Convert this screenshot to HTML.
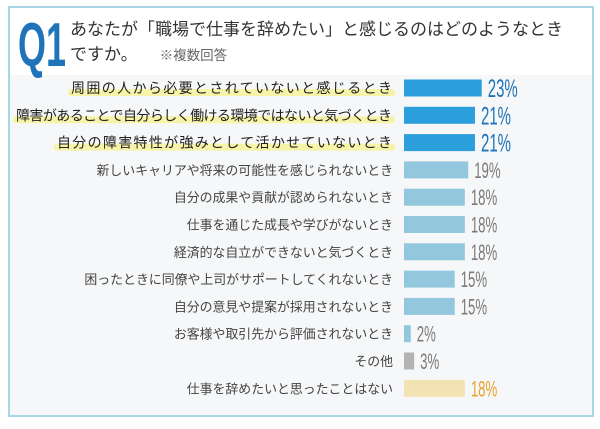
<!DOCTYPE html>
<html><head><meta charset="utf-8">
<style>
html,body{margin:0;padding:0;background:#fff;}
body{width:600px;height:424px;overflow:hidden;font-family:"Liberation Sans","Noto Sans CJK JP",sans-serif;}
</style></head>
<body>
<svg width="600" height="424" viewBox="0 0 600 424" xmlns="http://www.w3.org/2000/svg">
<rect x="9" y="7" width="584" height="409" fill="#ffffff" stroke="#a9d6e6" stroke-width="2"/>
<rect x="10" y="75" width="582" height="340" fill="#f6f7f8"/>
<text x="18" y="66" font-size="62" font-weight="bold" fill="#1f74b9" transform="translate(18,0) scale(0.58,1) translate(-18,0)">Q1</text>
<text x="70" y="35" font-size="17" fill="#333" textLength="493">あなたが「職場で仕事を辞めたい」と感じるのはどのようなとき</text>
<text x="70" y="60" font-size="17" fill="#333">ですか。<tspan dx="22" font-size="13.5" fill="#666">※複数回答</tspan></text>
<g id="bars"></g>
</svg>
<script>
const categories=["周囲の人から必要とされていないと感じるとき","障害があることで自分らしく働ける環境ではないと気づくとき","自分の障害特性が強みとして活かせていないとき","新しいキャリアや将来の可能性を感じられないとき","自分の成果や貢献が認められないとき","仕事を通じた成長や学びがないとき","経済的な自立ができないと気づくとき","困ったときに同僚や上司がサポートしてくれないとき","自分の意見や提案が採用されないとき","お客様や取引先から評価されないとき","その他","仕事を辞めたいと思ったことはない"];
const values=[23,21,21,19,18,18,18,15,15,2,3,18];
const valueLabels=["23%","21%","21%","19%","18%","18%","18%","15%","15%","2%","3%","18%"];
const topStarts=[71,16,57];
const NS="http://www.w3.org/2000/svg";
const g=document.getElementById('bars');
const x0=404, pxPer=3.38, y0=88, step=27.3, bh=17;
const xs=v=>v*pxPer, ys=i=>y0+i*step;
function mk(t,a){const e=document.createElementNS(NS,t);for(const k in a)e.setAttribute(k,a[k]);return e;}
categories.forEach((c,i)=>{
  const top=i<3, y=ys(i);
  let barCol=top?"#2a9fdb":(i===10?"#b3b3b3":(i===11?"#f3e3b4":"#92c7de"));
  let valCol=top?"#1f74b9":(i===11?"#e9a22a":"#7a7a7a");
  let t;
  if(top){
    const sx=topStarts[i], w=392-sx;
    const hl=mk('rect',{x:sx-3,y:y+1,width:w+6,height:7,fill:"#f7f3a8",rx:3});
    
    
    g.appendChild(hl);
    t=mk('text',{x:sx,y:y+5,'font-size':14,fill:"#222",textLength:w,lengthAdjust:"spacing"});
  } else {
    t=mk('text',{x:393,y:y+5,'text-anchor':'end','font-size':12.9,fill:"#444"});
  }
  
  
  t.textContent=c; g.appendChild(t);
  const b=mk('rect',{x:x0,y:y-bh/2,width:xs(values[i]),height:bh,fill:barCol});
  
  
  g.appendChild(b);
  const vx=x0+xs(values[i])+6;
  const v=mk('text',{x:vx,y:y+(top?9:8),'font-size':top?25:22,fill:valCol,transform:`translate(${vx},0) scale(0.6,1) translate(${-vx},0)`});
  
  
  v.textContent=valueLabels[i]; g.appendChild(v);
});
</script>
</body></html>
